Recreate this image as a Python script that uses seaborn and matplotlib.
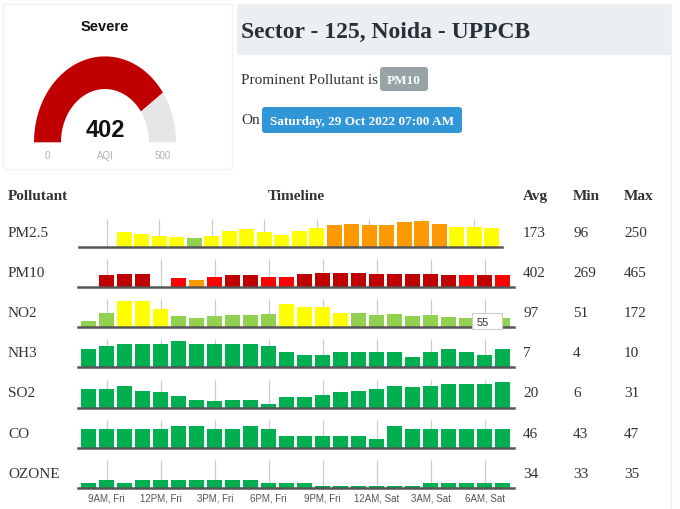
import numpy as np
import pandas as pd
import matplotlib
matplotlib.use("Agg")
import matplotlib.pyplot as plt
from matplotlib.patches import Rectangle, FancyBboxPatch
import matplotlib.transforms as mtransforms
import seaborn as sns

# ---------------- data ----------------
nan = np.nan
pollutants = ["PM2.5", "PM10", "NO2", "NH3", "SO2", "CO", "OZONE"]
pm25 = [nan, nan, 146, 133, 110, 101, 96, 110, 156, 179, 146, 120, 156, 188,
        211, 224, 211, 211, 240, 250, 224, 195, 195, 190]
pm10 = [nan, 411, 429, 429, nan, 313, 269, 358, 405, 405, 358, 358, 429, 465,
        465, 460, 429, 429, 429, 429, 405, 396, 404, 395]
no2 = [51, 98, 172, 172, 124, 80, 66, 80, 87, 87, 95, 157, 137, 137, 102, 99,
       87, 95, 80, 87, 72, 66, 55, 66]
nh3 = [7, 8, 9, 9, 9, 10, 9, 9, 9, 9, 8, 6, 5, 5, 6, 6, 6, 6, 4, 6, 7, 6, 5, 7]
so2 = [23, 23, 26, 21, 19, 15, 10, 9, 10, 10, 6, 13, 14, 16, 19, 21, 23, 26,
       25, 26, 28, 28, 28, 31]
co = [46, 46, 46, 46, 46, 47, 47, 46, 46, 47, 46, 44, 44, 44, 44, 44, 43, 47,
      46, 46, 46, 46, 46, 46]
ozone = [34, 35, 34, 35, 35, 35, 35, 35, 35, 35, 34, 34, 34, 33, 33, 33, 33,
         33, 33, 34, 34, 34, 34, 34]
series = [pm25, pm10, no2, nh3, so2, co, ozone]
avg_vals = [173, 402, 97, 7, 20, 46, 34]
min_vals = [96, 269, 51, 4, 6, 43, 33]
max_vals = [250, 465, 172, 10, 31, 47, 35]
tick_idx = [1, 4, 7, 10, 13, 16, 19, 22]
tick_labels = ["9AM, Fri", "12PM, Fri", "3PM, Fri", "6PM, Fri", "9PM, Fri",
               "12AM, Sat", "3AM, Sat", "6AM, Sat"]
aqi_value = 402
aqi_max = 500
aqi_category = "Severe"
station = "Sector - 125, Noida - UPPCB"
prominent = "PM10"
timestamp = "Saturday, 29 Oct 2022 07:00 AM"
tooltip_index = 22

# ---------------- style ----------------
SERIF = ["Liberation Serif", "DejaVu Serif"]
SANS = ["Liberation Sans", "DejaVu Sans"]
row_ylims = [(12.8, 271.5), (82, 830), (11.4, 186.6), (0.33, 10.6),
             (1.4, 33.7), (40.56, 48.76), (32.37, 41.2)]
row_slot = [17.5, 18, 18, 18, 18, 18, 18]


def aqi_color(v):
    if v is None or (isinstance(v, float) and np.isnan(v)):
        return "#ffffff"
    if v <= 50:
        return "#00b050"
    if v <= 100:
        return "#92d050"
    if v <= 200:
        return "#ffff00"
    if v <= 300:
        return "#ff9900"
    if v <= 400:
        return "#ff0000"
    return "#c00000"


W, H = 680, 510
fig = plt.figure(figsize=(6.8, 5.1), dpi=100)
fig.patch.set_facecolor("white")

base0, row_gap, axis_h = 247.7, 40.2, 28
first_tick_px = 106.7

row_axes = []
for i, vals in enumerate(series):
    slot = row_slot[i]
    baseline = base0 + row_gap * i
    left_px = first_tick_px - 1.6 * slot
    width_px = 24.2 * slot
    ax = fig.add_axes([left_px / W, 1 - baseline / H, width_px / W, axis_h / H])
    df = pd.DataFrame({"slot": list(range(24)), "value": vals})
    pal = {k: aqi_color(v) for k, v in zip(range(24), vals)}
    lo, hi = row_ylims[i]
    ax.vlines(tick_idx, lo, hi, color="#cccccc", lw=0.9, zorder=0.5)
    sns.barplot(data=df, x="slot", y="value", hue="slot", palette=pal,
                order=list(range(24)), hue_order=list(range(24)),
                legend=False, dodge=False, width=0.86, saturation=1,
                errorbar=None, ax=ax, zorder=2)
    ax.set_xlim(-0.6, 23.6)
    ax.set_ylim(lo, hi)
    ax.set_xlabel("")
    ax.set_ylabel("")
    ax.set_yticks([])
    ax.patch.set_alpha(0)
    for s in ["top", "left", "right"]:
        ax.spines[s].set_visible(False)
    ax.spines["bottom"].set_color("#555555")
    ax.spines["bottom"].set_linewidth(1.8)
    if i == len(series) - 1:
        ax.set_xticks(tick_idx)
        ax.set_xticklabels(tick_labels, fontsize=7, color="#555555",
                           family=SANS)
        ax.tick_params(axis="x", length=0, pad=3)
    else:
        ax.set_xticks([])
    row_axes.append(ax)

# tooltip on NO2 row
ax_no2 = row_axes[2]
trans = mtransforms.blended_transform_factory(ax_no2.transData, ax_no2.transAxes)
ax_no2.add_patch(Rectangle((tooltip_index - 0.72, -0.08), 1.68, 0.6,
                           transform=trans, fc="white", ec="#cccccc", lw=0.8,
                           clip_on=False, zorder=5))
ax_no2.text(tooltip_index - 0.45, 0.2, str(no2[tooltip_index]), transform=trans,
            fontsize=8, color="#333333", family=SANS, va="center", ha="left",
            zorder=6, clip_on=False)

# ---------------- overlay for texts and gauge ----------------
ov = fig.add_axes([0, 0, 1, 1], zorder=10)
ov.set_xlim(0, W)
ov.set_ylim(H, 0)
ov.axis("off")
ov.patch.set_alpha(0)

# card borders
ov.add_patch(Rectangle((3, 5), 229, 165, fill=False, ec="#f3f3f3", lw=1))
ov.plot([671, 671], [5, 510], color="#f0f0f0", lw=1)
ov.add_patch(Rectangle((237, 5), 434, 51, fc="#eceff1", ec="none"))

# gauge
cx, cy, r_out, r_in, sy = 105, 143.3, 71, 44, 1.21
t_split = np.pi * (1 - aqi_value / aqi_max)


def band(t0, t1, color):
    t = np.linspace(t0, t1, 100)
    xo = cx + r_out * np.cos(t)
    yo = cy - r_out * np.sin(t) * sy
    xi = cx + r_in * np.cos(t[::-1])
    yi = cy - r_in * np.sin(t[::-1]) * sy
    ov.fill(np.r_[xo, xi], np.r_[yo, yi], color=color, lw=0)


band(np.pi, t_split, aqi_color(aqi_value))
band(t_split, 0, "#e6e6e6")
ov.text(cx, 27, aqi_category, ha="center", va="center", fontsize=10.5,
        fontweight="bold", family=SANS, color="#111111")
ov.text(cx, 131, str(aqi_value), ha="center", va="center", fontsize=17,
        fontweight="bold", family=SANS, color="#111111")
for x, s in [(cx - 58, "0"), (cx, "AQI"), (cx + 58, str(aqi_max))]:
    ov.text(x, 156, s, ha="center", va="center", fontsize=7,
            family=SANS, color="#b0b0b0")

# header texts
ov.text(241, 32, station, ha="left", va="center", fontsize=17,
        fontweight="bold", family=SERIF, color="#263238")
ov.text(241, 80, "Prominent Pollutant is", ha="left", va="center",
        fontsize=11, family=SERIF, color="#333333")
ov.add_patch(FancyBboxPatch((380, 68), 48, 24,
                            boxstyle="round,pad=0,rounding_size=3",
                            fc="#97a3a6", ec="none"))
ov.text(404, 80.5, prominent, ha="center", va="center", fontsize=9.5,
        fontweight="bold", family=SERIF, color="white")
ov.text(241, 121, "On", ha="left", va="center", fontsize=11, family=SERIF,
        color="#333333")
ov.add_patch(FancyBboxPatch((262, 108), 200, 26,
                            boxstyle="round,pad=0,rounding_size=3",
                            fc="#3096d8", ec="none"))
ov.text(362, 121.5, timestamp, ha="center", va="center", fontsize=9.5,
        fontweight="bold", family=SERIF, color="white")

# table headers
hy = 197
ov.text(8, hy, "Pollutant", ha="left", va="center", fontsize=11,
        fontweight="bold", family=SERIF, color="#333333")
ov.text(296, hy, "Timeline", ha="center", va="center", fontsize=11,
        fontweight="bold", family=SERIF, color="#333333")
col_x = [523, 573, 624]
for x, s in zip(col_x, ["Avg", "Min", "Max"]):
    ov.text(x, hy, s, ha="left", va="center", fontsize=11,
            fontweight="bold", family=SERIF, color="#333333")

for i, name in enumerate(pollutants):
    y = base0 + row_gap * i - 14.5
    ov.text(8, y, name, ha="left", va="center", fontsize=11, family=SERIF,
            color="#333333")
    for x, v in zip(col_x, [avg_vals[i], min_vals[i], max_vals[i]]):
        ov.text(x, y, str(v), ha="left", va="center", fontsize=11,
                family=SERIF, color="#333333")

fig.savefig("out.png", dpi=100)
